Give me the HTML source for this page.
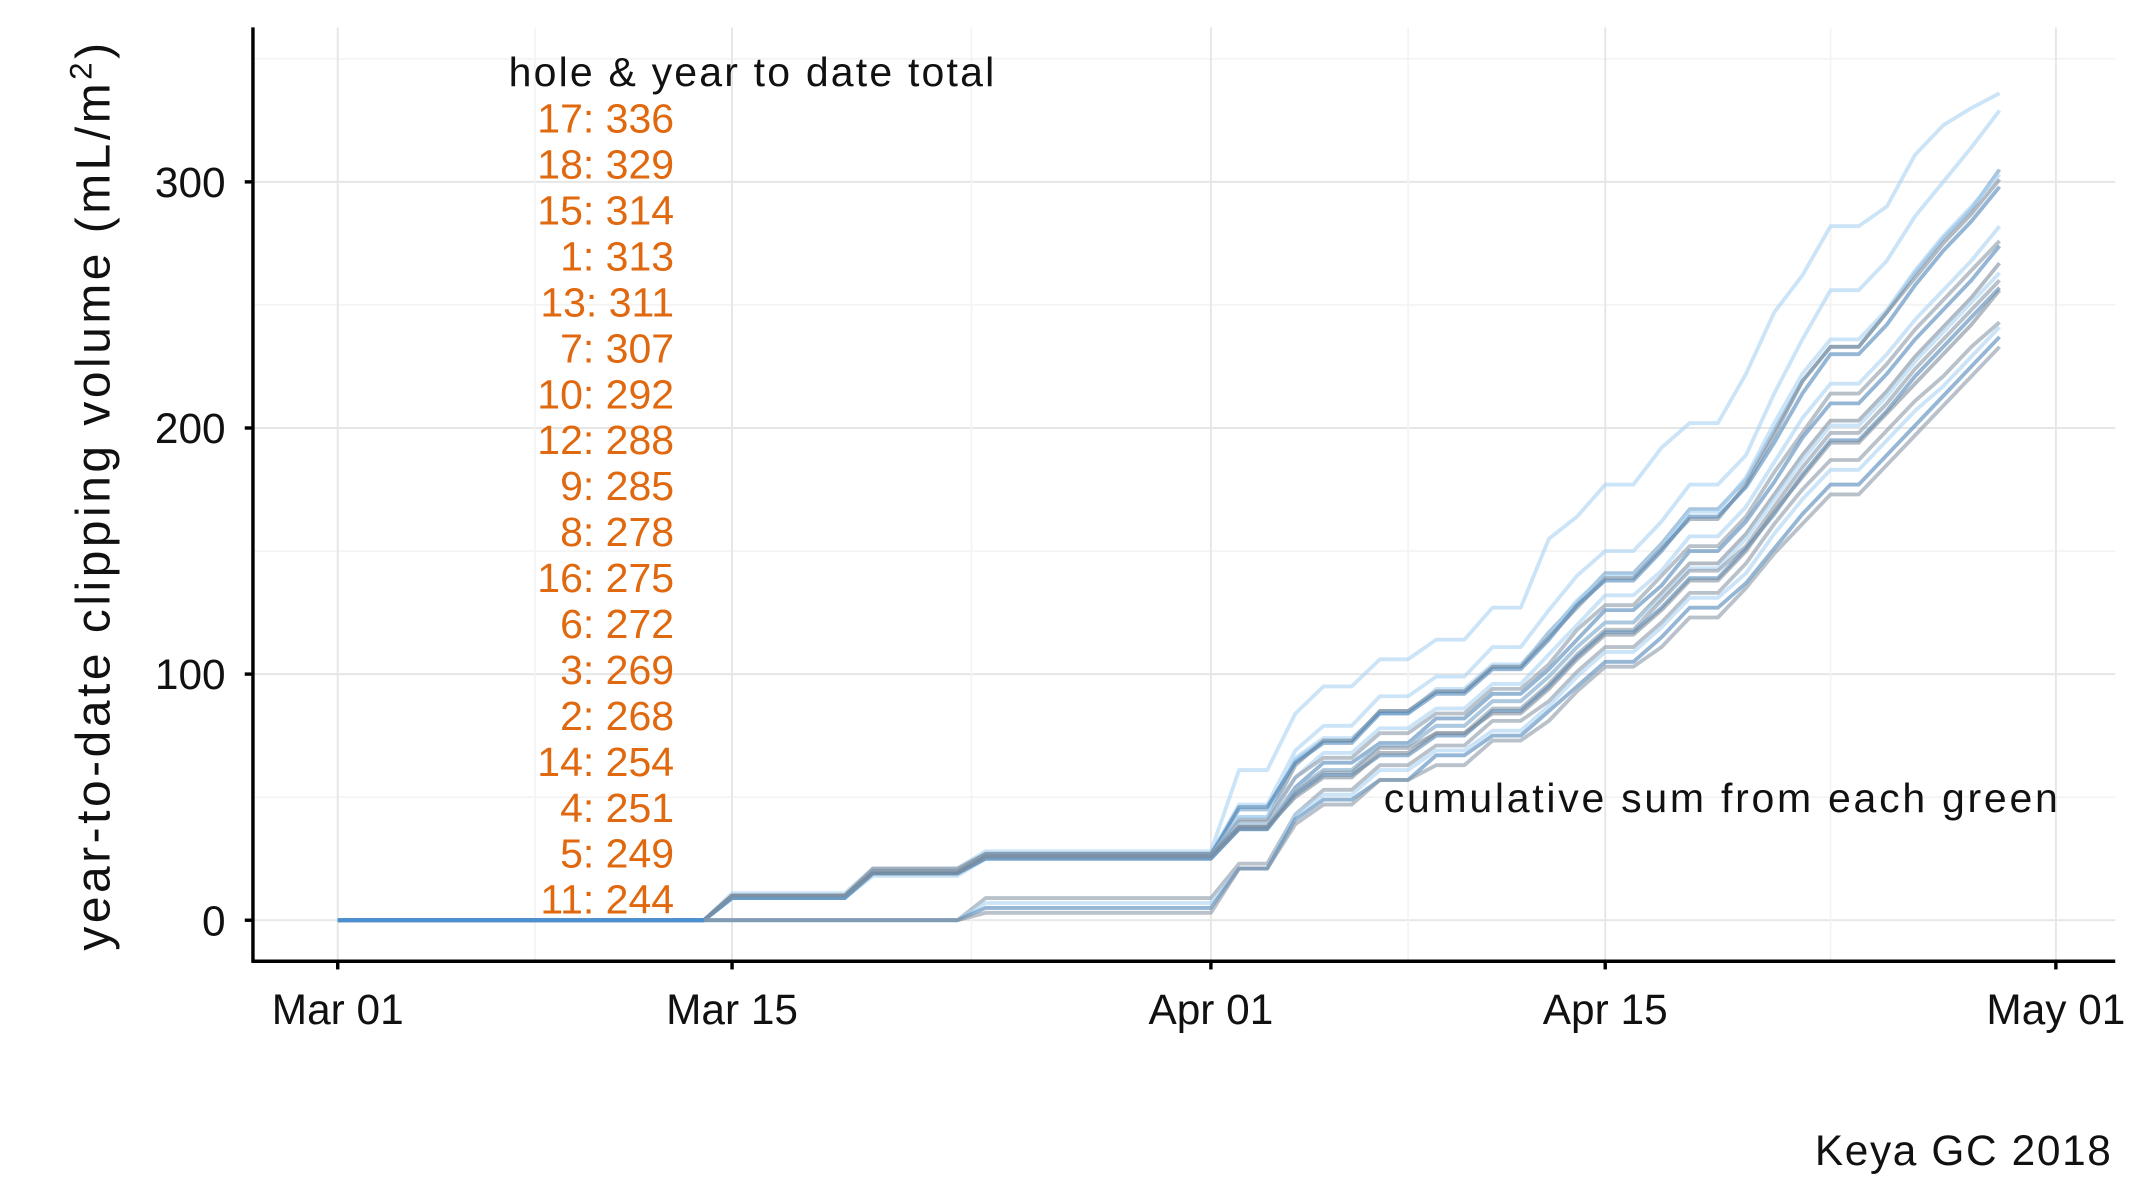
<!DOCTYPE html>
<html><head><meta charset="utf-8"><style>
html,body{margin:0;padding:0;background:#fff}
svg{display:block}
text{font-family:"Liberation Sans",sans-serif}
</style></head><body>
<svg id="chart" width="2133" height="1200" viewBox="0 0 1560 877.6" xmlns="http://www.w3.org/2000/svg">
<g id="grid"></g>
<g id="series"></g>
<g id="axes"></g>
<text transform="translate(80,362) rotate(-90)" text-anchor="middle" font-size="35" letter-spacing="2.6" fill="#111">year-to-date clipping volume (mL/m<tspan dy="-13" font-size="23">2</tspan><tspan dy="13">)</tspan></text>
<text x="372" y="63" font-size="30" letter-spacing="1.6" fill="#111">hole &amp; year to date total</text>
<g id="totals"></g>
<text x="1507" y="594" text-anchor="end" font-size="30" letter-spacing="2" fill="#111">cumulative sum from each green</text>
<text x="1545" y="852" text-anchor="end" font-size="31" letter-spacing="1.2" fill="#111">Keya GC 2018</text>
</svg>
<script>
const mowDays = [14,19,23,32,34,35,37,39,41,43,44,45,47,48,50,51,52,53,55,56,57,58,59];
const holes = [17,18,15,1,13,7,10,12,9,8,16,6,3,2,14,4,5,11];
const totals = [336,329,314,313,311,307,292,288,285,278,275,272,269,268,254,251,249,244];
const clip17 = [11,10,7,33,23,11,11,8,13,28,9,13,15,10,20,25,15,20,8,21,12,7,6];
const clip18 = [10,10,7,20,22,10,12,8,12,15,14,10,12,15,12,25,22,20,12,18,14,14,15];
const clip15 = [9,11,7,18,20,8,12,8,10,14,12,12,12,14,12,20,20,14,14,16,14,12,16];
const clip1 = [10,10,6,16,24,8,10,10,10,12,14,10,12,14,14,22,20,14,12,16,14,12,13];
const clip13 = [10,11,6,14,22,10,12,8,10,12,12,12,12,12,14,20,22,14,14,14,14,12,14];
const clip7 = [10,9,7,20,18,8,12,8,10,12,14,10,12,14,12,18,20,16,12,16,14,12,14];
const clip10 = [9,10,7,16,16,10,10,8,10,12,12,12,10,14,12,18,18,14,12,14,12,12,14];
const clip12 = [10,10,6,14,18,8,10,8,10,10,14,10,12,12,12,18,16,16,12,14,12,12,12];
const clip9 = [9,10,7,12,16,10,8,10,10,10,12,12,10,14,12,16,18,14,12,14,12,12,14];
const clip8 = [10,9,6,12,16,8,10,8,10,10,12,10,12,12,12,16,16,14,12,14,12,12,14];
const clip16 = [9,9,7,14,14,8,10,8,10,10,12,10,10,12,12,16,16,14,12,14,12,12,12];
const clip6 = [10,10,6,12,14,8,10,6,10,10,12,10,12,12,10,16,16,14,12,14,12,12,12];
const clip3 = [9,10,6,12,14,8,8,8,10,10,12,10,10,12,12,14,16,14,12,14,12,12,12];
const clip2 = [10,9,7,12,12,8,10,8,8,10,12,10,10,12,12,16,14,14,12,12,12,12,14];
const clip14 = [0,0,9,14,20,10,10,8,10,8,12,10,10,12,12,16,14,12,12,12,10,12,10];
const clip4 = [0,0,7,14,22,8,10,8,8,10,12,10,10,12,10,16,14,12,12,12,10,12,12];
const clip5 = [0,0,5,16,20,8,8,10,8,10,10,10,10,12,10,14,14,12,12,12,12,12,12];
const clip11 = [0,0,3,18,18,8,10,6,10,8,12,10,8,12,12,14,12,12,12,12,12,12,12];
const clips = [clip17,clip18,clip15,clip1,clip13,clip7,clip10,clip12,clip9,clip8,clip16,clip6,clip3,clip2,clip14,clip4,clip5,clip11];
const yTicks = [0,100,200,300];
const xTickDays = [0,14,31,45,61];
const xTickLabels = ["Mar 01","Mar 15","Apr 01","Apr 15","May 01"];
const lastDay = 59;

const NS = "http://www.w3.org/2000/svg";
const X0 = 247, DX = 20.6, Y0 = 673, DY = 1.8;
const PL = 185, PR = 1547, PT = 20, PB = 703;
function xs(d){return X0 + d*DX;}
function ys(v){return Y0 - v*DY;}
function mk(tag, attrs, parent){const e=document.createElementNS(NS,tag);for(const k in attrs)e.setAttribute(k,attrs[k]);parent.appendChild(e);return e;}

const grid = document.getElementById('grid');
for(let v=50; v<=350; v+=100){
  const l = mk('line',{x1:PL,x2:PR,y1:ys(v),y2:ys(v),stroke:'#f3f3f3','stroke-width':1.2},grid);
  
  
}
yTicks.forEach(v=>{
  const l = mk('line',{x1:PL,x2:PR,y1:ys(v),y2:ys(v),stroke:'#e6e6e6','stroke-width':1.4},grid);
  
  
});
for(let i=0;i<xTickDays.length-1;i++){
  const m=(xTickDays[i]+xTickDays[i+1])/2;
  const l = mk('line',{x1:xs(m),x2:xs(m),y1:PT,y2:PB,stroke:'#f3f3f3','stroke-width':1.2},grid);
  
  
}
xTickDays.forEach(d=>{
  const l = mk('line',{x1:xs(d),x2:xs(d),y1:PT,y2:PB,stroke:'#e6e6e6','stroke-width':1.4},grid);
  
  
});

const colors = ['#a9d2f2','#a9d2f2','#6f9fc8','#a9d2f2','#7f8e9c','#4f86b8','#a9d2f2','#8a98a6','#4f86b8','#7f8e9c','#a9d2f2','#8a98a6','#4f86b8','#7f8e9c','#8a98a6','#a9d2f2','#4f86b8','#8a98a6'];
const sg = document.getElementById('series');
clips.forEach((c,si)=>{
  const pts=[];
  let cum=0;
  for(let d=0; d<=lastDay; d++){
    const k = mowDays.indexOf(d);
    if(k>=0) cum += c[k];
    pts.push(xs(d).toFixed(1)+','+ys(cum).toFixed(1));
  }
  const p = mk('polyline',{points:pts.join(' '),fill:'none',stroke:colors[si],'stroke-width':2.8,'stroke-opacity':0.6,'stroke-linejoin':'round'},sg);
  
  
});
const base = mk('line',{x1:xs(0),x2:xs(13),y1:ys(0),y2:ys(0),stroke:'#4a90d0','stroke-width':2.8},sg);



const ax = document.getElementById('axes');
const ya = mk('line',{x1:PL,x2:PL,y1:PT,y2:PB+1,stroke:'#000','stroke-width':2.5},ax);


const xa = mk('line',{x1:PL-1,x2:PR,y1:PB,y2:PB,stroke:'#000','stroke-width':2.5},ax);


yTicks.forEach(v=>{
  const t = mk('line',{x1:PL-6,x2:PL,y1:ys(v),y2:ys(v),stroke:'#000','stroke-width':2.5},ax);
  
  
  const tx = mk('text',{x:PL-20,y:ys(v)+11,'text-anchor':'end','font-size':31,fill:'#111'},ax);
  tx.textContent = v;
  
  
});
xTickDays.forEach((d,i)=>{
  const t = mk('line',{x1:xs(d),x2:xs(d),y1:PB,y2:PB+6,stroke:'#000','stroke-width':2.5},ax);
  
  
  const tx = mk('text',{x:xs(d),y:749,'text-anchor':'middle','font-size':31,fill:'#111'},ax);
  tx.textContent = xTickLabels[i];
  
  
});

const tg = document.getElementById('totals');
holes.forEach((h,i)=>{
  const t = mk('text',{x:493,y:97+i*33.6,'text-anchor':'end','font-size':30,fill:'#e0680f'},tg);
  t.textContent = h+': '+totals[i];
  
  
});
</script>
</body></html>
